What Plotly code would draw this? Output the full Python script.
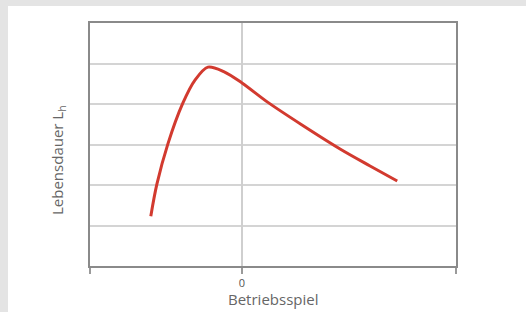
import plotly.graph_objects as go

# Data (x: Betriebsspiel, 0 at centre line; y: Lebensdauer, grid units)
betriebsspiel = [-2.25, -2.10, -1.83, -1.46, -1.16, -0.84, -0.45, 0.0, 0.64, 1.50, 2.42, 3.16, 3.83]
lebensdauer = [1.23, 2.02, 3.01, 4.02, 4.59, 4.91, 4.80, 4.52, 4.04, 3.47, 2.89, 2.47, 2.10]

x_range = [-3.75, 5.28]
y_range = [0, 6]
x_tickvals = [-3.75, 0, 5.28]
x_ticktext = ["", "0", ""]
y_gridvals = [1, 2, 3, 4, 5]

W, H = 526, 312
ML, MR, MT, MB = 90, 70, 23, 46
PW, PH = W - ML - MR, H - MT - MB

def px_to_paper_x(px):
    return (px - ML) / PW

def py_to_paper_y(py):
    return (H - MB - py) / PH

fig = go.Figure()
fig.add_trace(go.Scatter(
    x=betriebsspiel, y=lebensdauer, mode="lines",
    line=dict(color="#d23a2f", width=3, shape="spline", smoothing=0.9),
    hoverinfo="skip", showlegend=False,
))

font = "Open Sans, Liberation Sans, sans-serif"
fig.update_layout(
    width=W, height=H,
    margin=dict(l=ML, r=MR, t=MT, b=MB),
    paper_bgcolor="#e4e4e4",
    plot_bgcolor="#ffffff",
    font=dict(family=font, color="#666666"),
    xaxis=dict(
        range=x_range, tickvals=x_tickvals, ticktext=x_ticktext,
        showgrid=False, zeroline=True, zerolinecolor="#cfcfcf", zerolinewidth=2,
        showline=True, linecolor="#8a8a8a", linewidth=2, mirror=True,
        ticks="outside", ticklen=6, tickcolor="#9a9a9a", tickwidth=1.5,
        tickfont=dict(size=11, color="#555555"), fixedrange=True,
    ),
    yaxis=dict(
        range=y_range, tickvals=y_gridvals, showticklabels=False,
        showgrid=True, gridcolor="#d4d4d4", gridwidth=2, zeroline=False,
        showline=True, linecolor="#8a8a8a", linewidth=2, mirror=True,
        ticks="", fixedrange=True,
    ),
    shapes=[dict(
        type="rect", xref="paper", yref="paper", layer="below",
        x0=px_to_paper_x(8), x1=px_to_paper_x(W + 5),
        y0=py_to_paper_y(H + 5), y1=py_to_paper_y(6),
        fillcolor="#ffffff", line=dict(width=0),
    )],
    annotations=[
        dict(text="Betriebsspiel", xref="paper", yref="paper",
             x=0.5, y=py_to_paper_y(299), showarrow=False,
             font=dict(size=15, color="#666666"), xanchor="center", yanchor="middle"),
        dict(text="Lebensdauer L<sub>h</sub>", xref="paper", yref="paper",
             x=px_to_paper_x(58), y=py_to_paper_y(160), showarrow=False, textangle=-90,
             font=dict(size=15, color="#666666"), xanchor="center", yanchor="middle"),
    ],
)

fig.write_html(
    "out.html",
    config={"displayModeBar": False},
    post_script="document.body.style.margin='0';document.body.style.overflow='hidden';",
)
